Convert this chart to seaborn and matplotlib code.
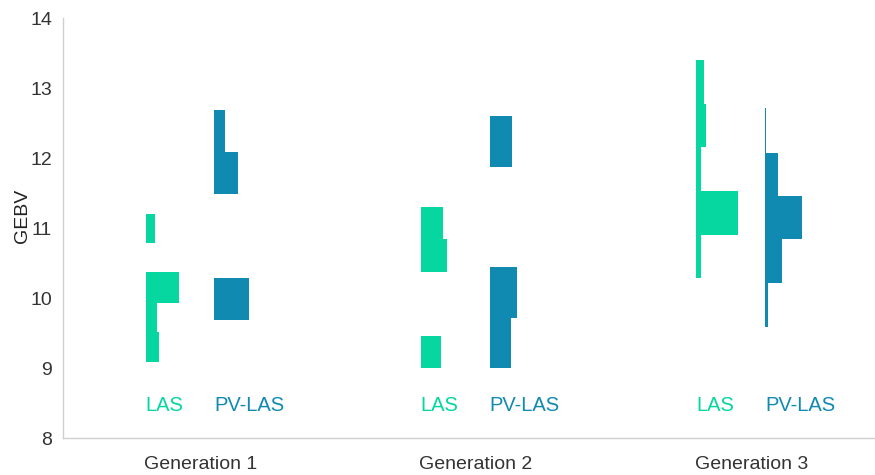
import numpy as np
import pandas as pd
import matplotlib
matplotlib.use('Agg')
import matplotlib.pyplot as plt
import matplotlib.transforms as mtransforms
import seaborn as sns

# histogram bin edges (GEBV) and bar lengths (in x-axis units)
generations = ['Generation 1', 'Generation 2', 'Generation 3']
methods = ['LAS', 'PV-LAS']

las_edges = [
    [9.09, 9.52, 9.94, 10.37, 10.79, 11.21],
    [9.00, 9.46, 9.92, 10.38, 10.84, 11.30],
    [10.29, 10.91, 11.53, 12.16, 12.78, 13.40],
]
las_heights = [
    [0.047, 0.042, 0.120, 0.0, 0.036],
    [0.074, 0.0, 0.0, 0.094, 0.080],
    [0.018, 0.151, 0.018, 0.037, 0.028],
]
pv_edges = [
    [9.69, 10.29, 10.89, 11.49, 12.09, 12.69],
    [9.00, 9.72, 10.44, 11.16, 11.88, 12.60],
    [9.59, 10.22, 10.84, 11.46, 12.08, 12.71],
]
pv_heights = [
    [0.127, 0.0, 0.0, 0.087, 0.040],
    [0.076, 0.098, 0.0, 0.0, 0.083],
    [0.011, 0.061, 0.136, 0.047, 0.004],
]

colors = {'LAS': '#06d6a0', 'PV-LAS': '#118ab2'}
offsets = {'LAS': -0.2, 'PV-LAS': 0.05}

sns.set_theme(style='white')
plt.rcParams['font.family'] = ['Liberation Sans', 'DejaVu Sans']

fig = plt.figure(figsize=(8.75, 4.75), dpi=100)
ax = fig.add_axes([0.072, 0.077, 0.928, 0.885])

for i, gen in enumerate(generations):
    for method, edges, heights in [('LAS', las_edges[i], las_heights[i]),
                                   ('PV-LAS', pv_edges[i], pv_heights[i])]:
        e = np.array(edges)
        df = pd.DataFrame({'GEBV': (e[:-1] + e[1:]) / 2, 'w': heights})
        base = i + 1 + offsets[method]
        shift = mtransforms.Affine2D().translate(base, 0)
        sns.histplot(data=df, y='GEBV', weights='w', bins=list(edges),
                     element='step', fill=True, color=colors[method], alpha=1,
                     linewidth=0, ax=ax, transform=shift + ax.transData)
        ax.text(base, 8.47, method, color=colors[method], fontsize=14.5,
                ha='left', va='center')

ax.set_xlim(0.5, 3.45)
ax.set_ylim(8, 14)
ax.set_xticks([1, 2, 3])
ax.set_xticklabels(generations)
ax.set_yticks(range(8, 15))
ax.set_xlabel('')
ax.set_ylabel('GEBV', fontsize=14, color='#222222')
ax.yaxis.set_label_coords(-0.04, 0.53)

sns.despine(ax=ax)
for s in ['left', 'bottom']:
    ax.spines[s].set_color('#d0d0d0')
    ax.spines[s].set_linewidth(1)
ax.tick_params(axis='both', direction='in', length=5, width=0.8,
               color='#cccccc', labelsize=14, labelcolor='#333333')
ax.tick_params(axis='x', pad=13)
ax.tick_params(axis='y', pad=8)

fig.savefig('out.png', dpi=100)
